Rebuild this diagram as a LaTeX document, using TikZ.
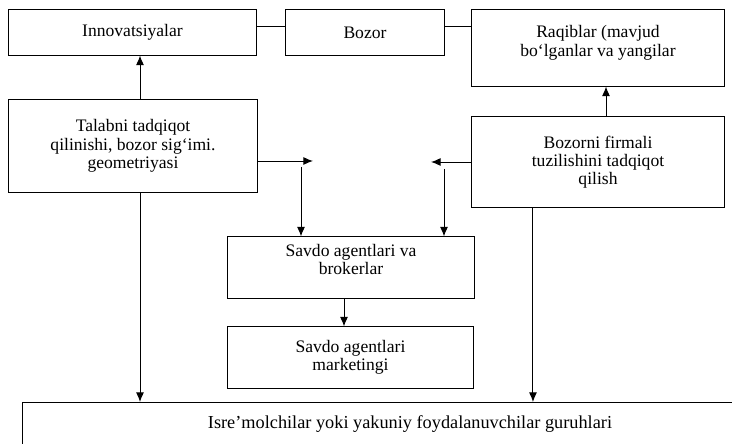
\documentclass[tikz,border=0pt]{standalone}
\usepackage{fontspec}
\setmainfont{Liberation Serif}
\usetikzlibrary{arrows.meta,positioning,calc}

\begin{document}
\begin{tikzpicture}[
    x=0.025cm, y=-0.025cm,
    >={Latex[length=2.4mm,width=2mm]},
    line width=0.7pt,
    box/.style={
        draw,
        inner sep=0pt,
        align=center,
        font=\fontsize{12.5}{13}\selectfont
    }
]
\useasboundingbox (0,0) rectangle (732,444);
\clip (0,0) rectangle (732,444);

% Nodes
\node[box, minimum width=6.175cm, minimum height=1.125cm] (innov) at (132.5,32.5) {Innovatsiyalar};
\node[box, minimum width=3.95cm, minimum height=1.125cm] (bozor) at (365,32.5) {Bozor};
\node[box, minimum width=6.3cm, minimum height=1.9cm] (raqib) at (598,48) {Raqiblar (mavjud\\bo`lganlar va yangilar\\[-0.1cm]};
\node[box, minimum width=6.2cm, minimum height=2.3cm] (talab) at (133,146) {Talabni tadqiqot\\qilinishi, bozor sig`imi.\\geometriyasi};
\node[box, minimum width=6.3cm, minimum height=2.25cm] (firma) at (598,162) {Bozorni firmali\\tuzilishini tadqiqot\\qilish};
\node[box, minimum width=6.15cm, minimum height=1.525cm] (savdo) at (351,267.5) {Savdo agentlari va\\brokerlar\\[-0.05cm]};
\node[box, minimum width=6.125cm, minimum height=1.525cm] (market) at (350.5,357.5) {Savdo agentlari\\marketingi};
\node[box, anchor=north, minimum width=19.35cm, text height=0.65cm, text depth=1.5cm,
      font=\fontsize{13}{14}\selectfont] (iste) at (410,402) {Isre’molchilar yoki yakuniy foydalanuvchilar guruhlari};

% Free ends
\coordinate (tEnd) at (313,161);
\coordinate (tDown) at (301,167);
\coordinate (fEnd) at (431,162);
\coordinate (fDown) at (444,169);

% Top row links
\draw ([yshift=0.16cm]innov.east) -- ([yshift=0.16cm]bozor.west);
\draw ([yshift=0.16cm]bozor.east) -- ([yshift=0.16cm]bozor.east -| raqib.west);

% Upward arrows
\draw[->] ([xshift=0.175cm]talab.north) -- ([xshift=0.175cm]talab.north |- innov.south);
\draw[->] ([xshift=0.2cm]firma.north) -- ([xshift=0.2cm]firma.north |- raqib.south);

% Side arrows into the middle
\draw[->] (talab.east |- tEnd) -- (tEnd);
\draw[->] (tDown) -- (tDown |- savdo.north);
\draw[->] (firma.west |- fEnd) -- (fEnd);
\draw[->] (fDown) -- (fDown |- savdo.north);

% Agents
\draw[->] ([xshift=-0.175cm]savdo.south) -- ([xshift=-0.175cm]savdo.south |- market.north);

% Down to consumers
\draw[->] ([xshift=0.175cm]talab.south) -- ([xshift=0.175cm]talab.south |- iste.north);
\draw[->] ([xshift=-1.625cm]firma.south) -- ([xshift=-1.625cm]firma.south |- iste.north);

\end{tikzpicture}
\end{document}
